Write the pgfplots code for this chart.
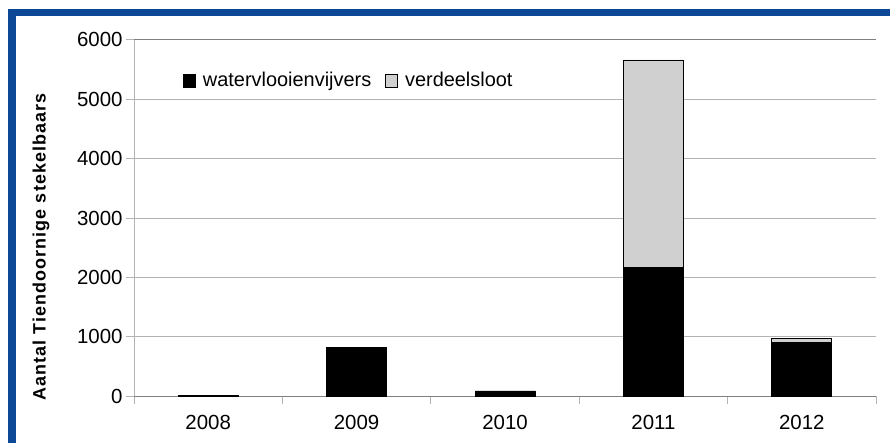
\documentclass[border=0pt]{standalone}
\usepackage{pgfplots}
\pgfplotsset{compat=1.18}
\usepackage{fontspec}
\setmainfont{Liberation Sans}
\newfontfamily\labfont[LetterSpace=6]{Liberation Sans}
\definecolor{frameblue}{RGB}{12,72,150}
\definecolor{lgray}{RGB}{207,208,207}
\definecolor{gridc}{RGB}{179,179,179}
\definecolor{axc}{RGB}{128,128,128}
\begin{document}
\begin{tikzpicture}[x=1bp,y=1bp]
\path[use as bounding box] (0,0) rectangle (890,443);
\fill[frameblue] (8,0) rectangle (16,433.5);
\fill[frameblue] (8,426.5) rectangle (890,433.5);
\begin{axis}[
  at={(134bp,46.7bp)}, anchor=south west,
  scale only axis, width=742bp, height=356.5bp,
  ybar stacked, bar width=60bp,
  xmin=-0.5, xmax=4.5, ymin=0, ymax=6000,
  xtick={-0.5,0.5,...,4.5}, x tick label as interval,
  xticklabels={2008,2009,2010,2011,2012},
  ytick={0,1000,...,6000},
  scaled y ticks=false,
  /pgf/number format/1000 sep={},
  /pgf/number format/assume math mode=true,
  axis x line*=bottom, axis y line*=left,
  x axis line style={axc, line width=0.8bp, -},
  y axis line style={gridc, line width=0.8bp, -},
  tick align=outside, major tick length=8bp,
  tick style={gridc, line width=0.8bp},
  ymajorgrids, grid style={gridc, line width=0.8bp},
  extra y ticks={6000}, extra y tick labels={},
  extra y tick style={grid style={axc, line width=0.8bp}},
  tick label style={font=\fontsize{20.5}{24}\selectfont},
  yticklabel style={xshift=0bp},
  xticklabel style={yshift=-7bp},
  legend columns=2,
  legend style={draw=none, fill=none, at={(rel axis cs:0.066,0.886)}, anchor=west,
    inner sep=0pt, font=\fontsize{20}{24}\selectfont,
    /tikz/every odd column/.append style={column sep=5bp},
    /tikz/every even column/.append style={column sep=12bp}},
  legend image code/.code={\draw[#1, draw=black, line width=0.8bp] (0bp,-6.5bp) rectangle (12bp,6.5bp);},
]
\addplot[fill=black, draw=black, line width=0.8bp] coordinates {(0,15) (1,820) (2,90) (3,2170) (4,910)};
\addplot[fill=lgray, draw=black, line width=0.8bp] coordinates {(0,0) (1,0) (2,0) (3,3490) (4,60)};
\legend{watervlooienvijvers, verdeelsloot}
\end{axis}
\node[rotate=90, font=\labfont\bfseries\fontsize{18}{22}\selectfont] at (41,196) {Aantal Tiendoornige stekelbaars};
\end{tikzpicture}
\end{document}
